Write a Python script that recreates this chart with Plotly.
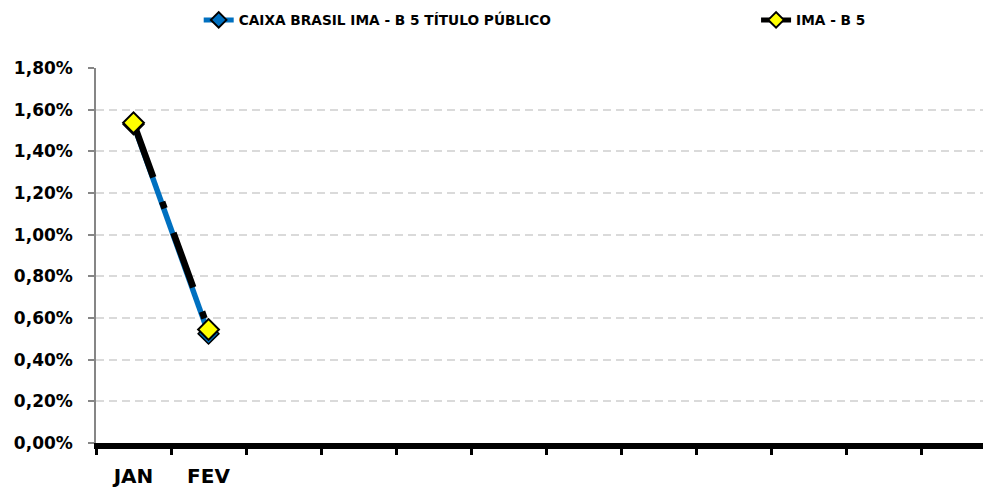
import plotly.graph_objects as go

# rentabilidade mensal (%), eixo com 12 meses
meses = ['JAN', 'FEV', '', '', '', '', '', '', '', '', '', '']
caixa_ima_b5 = [0.0153, 0.00525]
ima_b5 = [0.01537, 0.00545]

nome_caixa = 'CAIXA BRASIL IMA - B 5 TÍTULO PÚBLICO'
nome_ima = 'IMA - B 5'

x_idx = list(range(len(meses)))

fig = go.Figure()

fig.add_trace(go.Scatter(
    x=x_idx[:len(caixa_ima_b5)], y=caixa_ima_b5, name=nome_caixa,
    mode='lines+markers', legend='legend',
    line=dict(color='#0070C0', width=5.5),
    marker=dict(symbol='diamond', size=16, color='#0070C0',
                line=dict(color='black', width=1.5)),
))

fig.add_trace(go.Scatter(
    x=x_idx[:len(ima_b5)], y=ima_b5, name=nome_ima,
    mode='lines+markers', legend='legend2',
    line=dict(color='black', width=6.5, dash='58px,26px,7px,26px'),
    marker=dict(symbol='diamond', size=16, color='#FFFF00',
                line=dict(color='black', width=2)),
))

fig.update_xaxes(
    range=[-0.5, 11.43], automargin=False,
    tickmode='array', tickvals=x_idx, ticktext=meses,
    ticks='', ticklabelstandoff=10,
    tickfont=dict(family='DejaVu Sans', size=20, color='black', weight='bold'),
    showline=True, linecolor='black', linewidth=6,
    showgrid=False, zeroline=False,
    minor=dict(tickmode='array', tickvals=[i - 0.5 for i in range(13)],
               ticks='outside', ticklen=6, tickwidth=3, tickcolor='black',
               showgrid=False),
)

fig.update_yaxes(
    range=[0, 0.018], dtick=0.002, tickformat='.2%', automargin=False,
    ticks='outside', ticklen=6, tickwidth=1.5, tickcolor='#868686',
    ticklabelstandoff=12,
    tickfont=dict(family='DejaVu Sans', size=17, color='black', weight='bold'),
    showline=True, linecolor='#868686', linewidth=1.5,
    showgrid=True, gridcolor='#dadada', gridwidth=2, griddash='8px,5px',
    zeroline=False,
)

leg_font = dict(family='DejaVu Sans', size=13.7, color='black', weight='bold')

# a página tem margem de 8px no body, por isso a figura é 8px menor
fig.update_layout(
    width=983, height=480,
    margin=dict(l=88, r=0, t=60, b=45),
    plot_bgcolor='white', paper_bgcolor='white',
    separators=',.',
    showlegend=True,
    legend=dict(
        orientation='h', xref='container', yref='container',
        x=0.194, y=0.975, xanchor='left', yanchor='middle',
        itemsizing='constant', font=leg_font, bgcolor='rgba(0,0,0,0)',
    ),
    legend2=dict(
        orientation='h', xref='container', yref='container',
        x=0.761, y=0.975, xanchor='left', yanchor='middle',
        itemsizing='constant', font=leg_font, bgcolor='rgba(0,0,0,0)',
    ),
)

fig.write_html('out.html')
